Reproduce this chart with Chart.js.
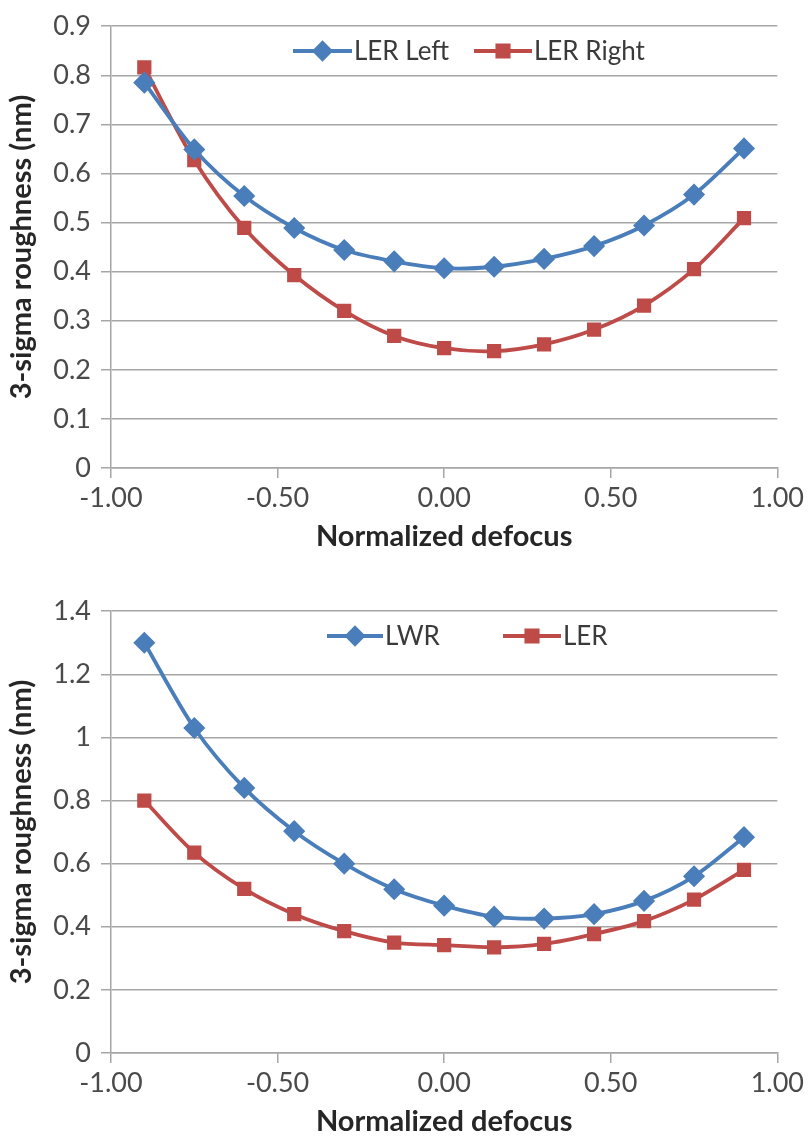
<!DOCTYPE html>
<html>
<head>
<meta charset="utf-8">
<script src="https://cdn.jsdelivr.net/npm/chart.js@4/dist/chart.umd.min.js"></script>
<style>
  html, body { margin: 0; padding: 0; background: #fff; }
  body { width: 808px; height: 1137px; position: relative; overflow: hidden; }
  canvas { position: absolute; left: 0; }
</style>
</head>
<body>
<canvas id="c1" width="808" height="584" style="top:0px"></canvas>
<canvas id="c2" width="808" height="584" style="top:585px"></canvas>
<script>
// ---- data ----
const defocus = [-0.9, -0.75, -0.6, -0.45, -0.3, -0.15, 0, 0.15, 0.3, 0.45, 0.6, 0.75, 0.9];
const lerLeft  = [0.785, 0.649, 0.554, 0.489, 0.444, 0.421, 0.407, 0.410, 0.426, 0.452, 0.494, 0.557, 0.651];
const lerRight = [0.816, 0.627, 0.489, 0.393, 0.320, 0.269, 0.244, 0.238, 0.252, 0.282, 0.331, 0.405, 0.509];
const lwr      = [1.300, 1.030, 0.840, 0.703, 0.600, 0.519, 0.467, 0.432, 0.426, 0.440, 0.482, 0.560, 0.684];
const ler      = [0.800, 0.635, 0.520, 0.440, 0.386, 0.350, 0.342, 0.335, 0.346, 0.377, 0.418, 0.486, 0.580];
const xTickValues = [-1, -0.5, 0, 0.5, 1];
const xTickLabels = ['-1.00', '-0.50', '0.00', '0.50', '1.00'];
const yTicksTop = [0, 0.1, 0.2, 0.3, 0.4, 0.5, 0.6, 0.7, 0.8, 0.9];
const yLabelsTop = ['0', '0.1', '0.2', '0.3', '0.4', '0.5', '0.6', '0.7', '0.8', '0.9'];
const yTicksBottom = [0, 0.2, 0.4, 0.6, 0.8, 1.0, 1.2, 1.4];
const yLabelsBottom = ['0', '0.2', '0.4', '0.6', '0.8', '1', '1.2', '1.4'];
const xTitle = 'Normalized defocus';
const yTitle = '3-sigma roughness (nm)';

const BLUE = '#4A7EBB';
const RED = '#BE4B48';
const GRID = '#A6A6A6';
const FONT = 'Lato, "Open Sans", sans-serif';

function pts(ys) { return defocus.map((x, i) => ({ x: x, y: ys[i] })); }

function ds(label, ys, color, style, radius, legendRadius) {
  return {
    label: label,
    data: pts(ys),
    borderColor: color,
    backgroundColor: color,
    borderWidth: 3.8,
    pointStyle: style,
    pointRadius: radius,
    pointHoverRadius: radius,
    pointBorderWidth: 1.5,
    pointBorderColor: color,
    pointBackgroundColor: color,
    legendRadius: legendRadius,
    tension: 0.3,
    fill: false
  };
}

const inlineLegend = {
  id: 'inlineLegend',
  afterDatasetsDraw(chart, args, opts) {
    const ctx = chart.ctx;
    ctx.save();
    chart.data.datasets.forEach((d, i) => {
      const it = opts.items[i];
      ctx.strokeStyle = d.borderColor;
      ctx.lineWidth = 3.8;
      ctx.beginPath();
      ctx.moveTo(it.x0, opts.y);
      ctx.lineTo(it.x1, opts.y);
      ctx.stroke();
      ctx.fillStyle = d.borderColor;
      Chart.helpers.drawPoint(ctx, { pointStyle: d.pointStyle, radius: d.legendRadius, borderWidth: 1, rotation: 0 },
        (it.x0 + it.x1) / 2, opts.y);
      ctx.fillStyle = '#3a3a3a';
      ctx.font = opts.font;
      ctx.textAlign = 'left';
      ctx.textBaseline = 'middle';
      ctx.fillText(d.label, it.x1 + 2, opts.y + 1);
    });
    ctx.restore();
  }
};

function makeChart(id, datasets, ymax, yTicks, yLabels, legendItems) {
  const canvasH = 584;
  const areaBottom = 468;
  return new Chart(document.getElementById(id), {
    type: 'line',
    data: { datasets: datasets },
    plugins: [inlineLegend],
    options: {
      responsive: false,
      animation: false,
      events: [],
      layout: { padding: { left: 0, right: 28, top: 19, bottom: 0 } },
      plugins: {
        legend: { display: false },
        tooltip: { enabled: false },
        inlineLegend: { y: 51, font: '26px ' + FONT, items: legendItems }
      },
      scales: {
        x: {
          type: 'linear',
          min: -1, max: 1,
          afterBuildTicks: s => { s.ticks = xTickValues.map(v => ({ value: v })); },
          afterFit: s => { s.height = canvasH - areaBottom; },
          ticks: {
            callback: (v) => xTickLabels[xTickValues.indexOf(v)],
            font: { family: FONT, size: 27 },
            color: '#4a4a4a',
            padding: 4,
            maxRotation: 0
          },
          grid: { drawOnChartArea: false, drawTicks: true, tickLength: 10, color: GRID, lineWidth: 1.5 },
          border: { display: true, color: GRID, width: 1.5 },
          title: {
            display: true, text: xTitle,
            font: { family: FONT, size: 29, weight: 'bold' },
            color: '#262626',
            padding: { top: 0, bottom: 30 }
          }
        },
        y: {
          type: 'linear',
          min: 0, max: ymax,
          afterBuildTicks: s => { s.ticks = yTicks.map(v => ({ value: v })); },
          afterFit: s => { s.width = 111; },
          ticks: {
            callback: (v) => yLabels[yTicks.findIndex(t => Math.abs(t - v) < 1e-9)],
            font: { family: FONT, size: 27 },
            color: '#4a4a4a',
            padding: 10
          },
          grid: { drawTicks: true, tickLength: 10, color: GRID, lineWidth: 1.5 },
          border: { display: true, color: GRID, width: 1.5 },
          title: {
            display: true, text: yTitle,
            font: { family: FONT, size: 29, weight: 'bold' },
            color: '#262626',
            padding: { top: 4, bottom: 0 }
          }
        }
      }
    }
  });
}

makeChart('c1',
  [ds('LER Left', lerLeft, BLUE, 'rectRot', 10, 8), ds('LER Right', lerRight, RED, 'rect', 9, 8)],
  0.9, yTicksTop, yLabelsTop,
  [{ x0: 293, x1: 352 }, { x0: 474, x1: 532 }]);

makeChart('c2',
  [ds('LWR', lwr, BLUE, 'rectRot', 10, 8), ds('LER', ler, RED, 'rect', 9, 8)],
  1.4, yTicksBottom, yLabelsBottom,
  [{ x0: 327, x1: 383 }, { x0: 503, x1: 561 }]);
</script>
</body>
</html>
